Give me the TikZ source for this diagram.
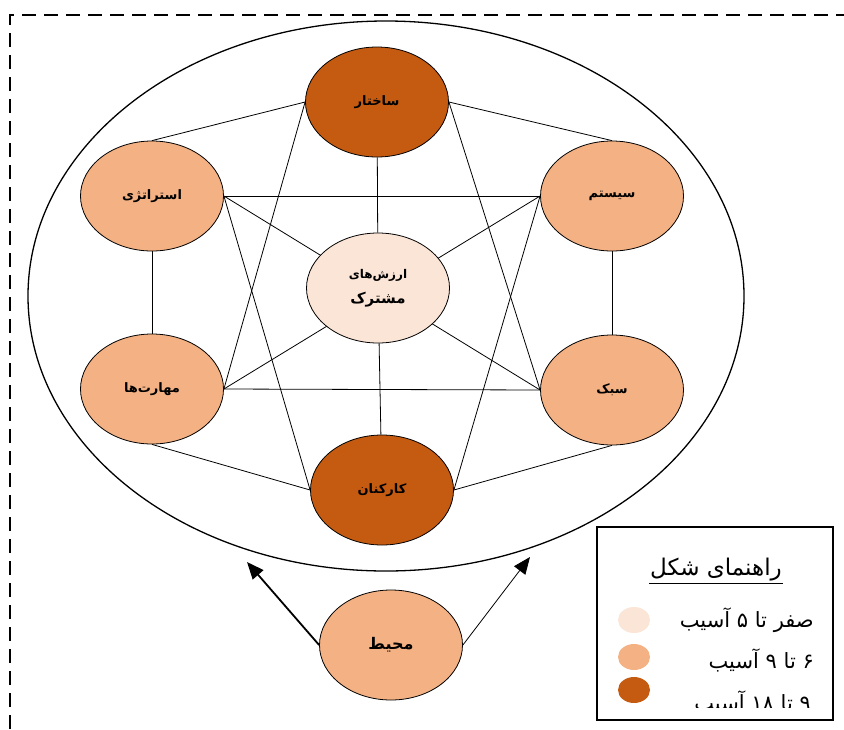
\documentclass[tikz,border=0pt]{standalone}
\usepackage{fontspec}
\usepackage{xcolor}
\usepackage{tikz}
\usetikzlibrary{arrows.meta, shapes.geometric, backgrounds}
\TeXXeTstate=1
\newfontfamily\fa[Script=Arabic]{DejaVu Sans}
\definecolor{darkorg}{HTML}{C55A11}
\definecolor{midorg}{HTML}{F4B183}
\definecolor{lightorg}{HTML}{FBE5D6}
\newcommand{\fatext}[1]{\beginR #1\endR}

\begin{document}
\begin{tikzpicture}[x=1pt,y=-1pt,
  factor/.style={ellipse,draw,line width=0.8pt,minimum width=143pt,minimum height=110pt,inner sep=0pt,font=\fa\bfseries\fontsize{13}{15}\selectfont},
  link/.style={line width=0.8pt},
  key/.style={ellipse,minimum width=32pt,minimum height=26pt,inner sep=0pt},
  keytext/.style={anchor=east,inner sep=0pt,font=\fa\fontsize{21}{24}\selectfont}]
\useasboundingbox (0,0) rectangle (844,729);

%dashed frame
\draw[line width=1.6pt,dash pattern=on 14pt off 8pt] (10,729) -- (10,15) -- (844,15);

%outer ellipse
\draw[line width=1.3pt] (386,296) ellipse [x radius=358, y radius=275];

\node[factor,fill=darkorg] (sakh) at (377,102) {\fatext{ساختار}};
\node[factor,fill=midorg] (strat) at (152,196) {\fatext{استراتژی}};
\node[factor,fill=midorg] (syst) at (612,196) {\fatext{سیستم}};
\node[factor,fill=lightorg,align=center] (arz) at (378,288)
  {{\fontsize{12}{14}\selectfont\fatext{ارزش‌های}}\\[10pt]{\fontsize{15}{17}\selectfont\fatext{مشترک}}};
\node[factor,fill=midorg] (mahar) at (152,389) {\fatext{مهارت‌ها}};
\node[factor,fill=midorg] (sabk) at (612,390) {\fatext{سبک}};
\node[factor,fill=darkorg] (kark) at (382,490) {\fatext{کارکنان}};

\begin{scope}[on background layer]
%ring
\draw[link] (strat.north) -- (sakh.west);
\draw[link] (sakh.east) -- (syst.north);
\draw[link] (strat.south) -- (mahar.north);
\draw[link] (syst.south) -- (sabk.north);
\draw[link] (mahar.south) -- (kark.west);
\draw[link] (sabk.south) -- (kark.east);

%cross lines
\draw[link] (strat.east) -- (syst.west);
\draw[link] (mahar.east) -- (sabk.west);
\draw[link] (strat.east) -- (sabk.west);
\draw[link] (mahar.east) -- (syst.west);
\draw[link] (sakh.west) -- (mahar.east);
\draw[link] (sakh.east) -- (sabk.west);
\draw[link] (kark.west) -- (strat.east);
\draw[link] (kark.east) -- (syst.west);

%center
\draw[link] (arz) -- (sakh);
\draw[link] (arz) -- (kark);
\end{scope}

%environment
\node[factor,fill=midorg,font=\fa\bfseries\fontsize{16}{18}\selectfont] (mohit) at (391,645) {\fatext{محیط}};
\coordinate (envL) at (247,562);
\coordinate (envR) at (530,557);
\draw[line width=1.8pt,-{Triangle[length=17pt,width=14pt]}] (mohit.west) -- (envL);
\draw[line width=0.8pt,-{Triangle[length=17pt,width=14pt]}] (mohit.east) -- (envR);

%legend
\draw[line width=2pt] (597,527) rectangle (833,720);
\node[inner sep=1pt,font=\fa\fontsize{23}{26}\selectfont] (ltitle) at (716,570) {\fatext{راهنمای شکل}};
\draw[line width=1pt] ([yshift=-1pt]ltitle.south west) -- ([yshift=-1pt]ltitle.south east);
\node[key,fill=lightorg] (k1) at (634,620) {};
\node[key,fill=midorg] (k2) at (634,657) {};
\node[key,fill=darkorg] (k3) at (634,690) {};
\node[keytext] (t1) at (814,620) {\fatext{صفر تا ۵ آسیب}};
\node[keytext] (t2) at (814,660) {\fatext{۶ تا ۹ آسیب}};
\begin{scope}
\clip (597,527) rectangle (833,707);
\node[keytext] (t3) at (811,702) {\fatext{۹ تا ۱۸ آسیب}};
\end{scope}

\end{tikzpicture}
\end{document}
